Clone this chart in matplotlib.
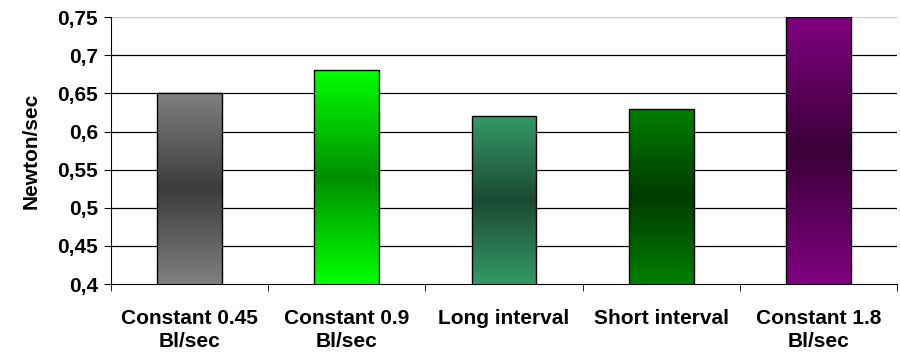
import matplotlib.pyplot as plt
import matplotlib.colors as mcolors
import numpy as np

# data
categorias = ['Constant 0.45\nBl/sec', 'Constant 0.9\nBl/sec', 'Long interval',
              'Short interval', 'Constant 1.8\nBl/sec']
valores = [0.65, 0.68, 0.62, 0.63, 0.75]
cor_borda = ['#808080', '#00ff00', '#339966', '#008000', '#800080']
cor_centro = ['#3c3c3c', '#009000', '#1c4a34', '#003a00', '#3a0038']

plt.rcParams['font.family'] = ['Liberation Sans', 'DejaVu Sans']
plt.rcParams['font.weight'] = 'bold'

fig = plt.figure(figsize=(9, 3.56), dpi=100)
ax = fig.add_axes([0.123, 0.202, 0.874, 0.750])

x = np.arange(len(categorias))
barras = ax.bar(x, valores, width=0.41, bottom=0, color='none',
                edgecolor='black', linewidth=1.0, zorder=3)

# gradiente vertical: claro nas pontas, escuro no meio
for b, c1, c2 in zip(barras, cor_borda, cor_centro):
    cmap = mcolors.LinearSegmentedColormap.from_list('g', [c1, c2, c1])
    grad = np.linspace(0, 1, 256).reshape(-1, 1)
    x0 = b.get_x()
    w = b.get_width()
    top = b.get_height()
    im = ax.imshow(grad, cmap=cmap, aspect='auto', origin='lower',
                   extent=[x0, x0 + w, 0.4, top], zorder=2)
    im.set_clip_path(b)

ax.set_xlim(-0.5, len(categorias) - 0.5)
ax.set_ylim(0.4, 0.75)
yt = np.arange(0.4, 0.7501, 0.05)
ax.set_yticks(yt)
ax.set_yticklabels([('%g' % v).replace('.', ',') for v in yt], fontsize=15, fontweight='bold')
ax.set_xticks(x)
ax.set_xticklabels(categorias, fontsize=15, fontweight='bold', linespacing=1.25)
ax.set_xticks(np.arange(-0.5, len(categorias)), minor=True)
ax.tick_params(axis='x', which='major', length=0, pad=18)
ax.tick_params(axis='x', which='minor', length=5, color='black')
ax.tick_params(axis='y', length=5, color='black', pad=4)
ax.set_ylabel('Newton/sec', fontsize=15, fontweight='bold', labelpad=12)

for v in yt[1:]:
    ax.axhline(v, color='#c8c8c8' if v > 0.74 else '#000000', linewidth=0.9, zorder=1)

for s in ['top', 'right']:
    ax.spines[s].set_visible(False)
ax.spines['left'].set_color('black')
ax.spines['bottom'].set_color('black')

plt.savefig('out.png', dpi=100)
